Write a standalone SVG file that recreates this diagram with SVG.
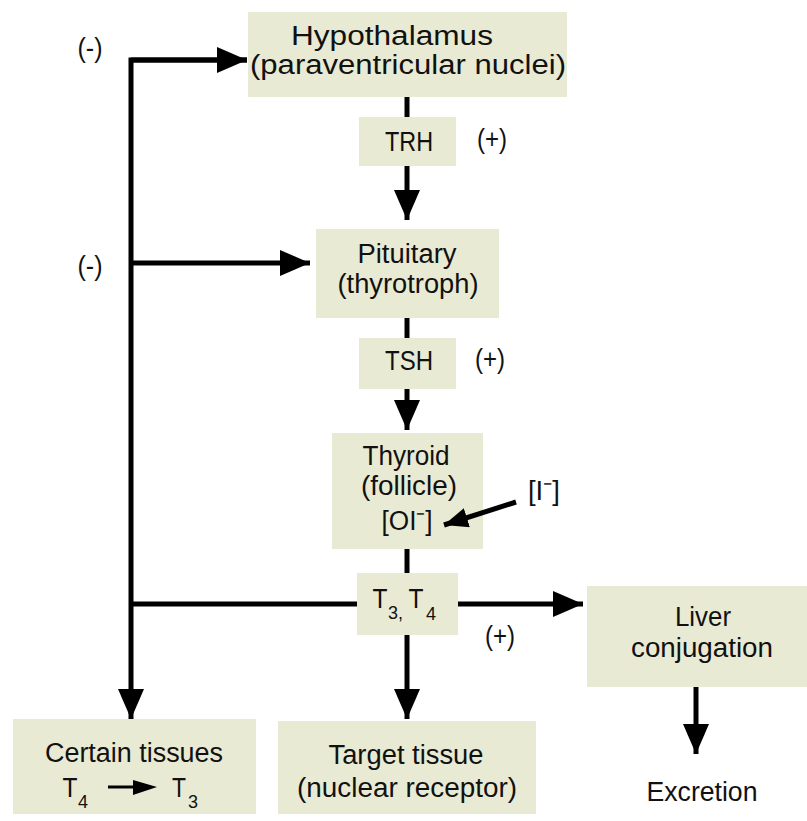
<svg xmlns="http://www.w3.org/2000/svg" width="807" height="821" viewBox="0 0 807 821">
<defs>
<style>
.box{fill:#E9EAD3;}
.t{font-family:"Liberation Sans",Arial,sans-serif;font-size:27px;fill:#111;text-anchor:middle;}
.s{font-family:"Liberation Sans",Arial,sans-serif;font-size:18px;fill:#111;}
.ln{stroke:#000;stroke-width:5;fill:none;}
</style>
<marker id="ah" markerUnits="userSpaceOnUse" markerWidth="32" markerHeight="26" refX="30" refY="13" orient="auto" viewBox="0 0 32 26">
<path d="M0,0 L30,13 L0,26 Z" fill="#000"/>
</marker>
<marker id="ahs" markerUnits="userSpaceOnUse" markerWidth="26" markerHeight="20" refX="24" refY="10" orient="auto" viewBox="0 0 26 20">
<path d="M0,0 L24,10 L0,20 Z" fill="#000"/>
</marker>
</defs>
<rect width="807" height="821" fill="#fff"/>
<g id="hypothalamus">
<rect class="box" x="248" y="12" width="319" height="85"/>
<text class="t" x="392" y="45" textLength="202" lengthAdjust="spacingAndGlyphs">Hypothalamus</text>
<text class="t" x="408" y="74" textLength="316" lengthAdjust="spacingAndGlyphs">(paraventricular nuclei)</text>
</g>
<g id="trh">
<rect class="box" x="359" y="117" width="97" height="49"/>
<text class="t" x="409" y="151" textLength="48" lengthAdjust="spacingAndGlyphs">TRH</text>
</g>
<g id="pituitary">
<rect class="box" x="316" y="229" width="183" height="89"/>
<text class="t" x="407" y="263" textLength="99" lengthAdjust="spacingAndGlyphs">Pituitary</text>
<text class="t" x="408" y="293" textLength="141" lengthAdjust="spacingAndGlyphs">(thyrotroph)</text>
</g>
<g id="tsh">
<rect class="box" x="359" y="338" width="97" height="51"/>
<text class="t" x="409" y="370" textLength="48" lengthAdjust="spacingAndGlyphs">TSH</text>
</g>
<g id="thyroid">
<rect class="box" x="332" y="433" width="151" height="116"/>
<text class="t" x="406" y="465" textLength="87" lengthAdjust="spacingAndGlyphs">Thyroid</text>
<text class="t" x="409" y="495" textLength="96" lengthAdjust="spacingAndGlyphs">(follicle)</text>
<text class="t" x="407" y="530" textLength="51" lengthAdjust="spacingAndGlyphs">[OI⁻]</text>
</g>
<g id="iodide">
<text class="t" x="544" y="500" textLength="32" lengthAdjust="spacingAndGlyphs">[I⁻]</text>
</g>
<g id="t3t4">
<rect class="box" x="357" y="573" width="101" height="62"/>
<text class="t" x="380" y="608" textLength="15" lengthAdjust="spacingAndGlyphs">T</text>
<text class="s" x="388" y="619">3,</text>
<text class="t" x="416" y="608" textLength="15" lengthAdjust="spacingAndGlyphs">T</text>
<text class="s" x="426" y="620">4</text>
</g>
<g id="liver">
<rect class="box" x="587" y="586" width="220" height="101"/>
<text class="t" x="703" y="626" textLength="56" lengthAdjust="spacingAndGlyphs">Liver</text>
<text class="t" x="702" y="657" textLength="142" lengthAdjust="spacingAndGlyphs">conjugation</text>
</g>
<g id="excretion">
<text class="t" x="702" y="801" textLength="111" lengthAdjust="spacingAndGlyphs">Excretion</text>
</g>
<g id="target">
<rect class="box" x="278" y="721" width="258" height="93"/>
<text class="t" x="406" y="764" textLength="155" lengthAdjust="spacingAndGlyphs">Target tissue</text>
<text class="t" x="407" y="797" textLength="220" lengthAdjust="spacingAndGlyphs">(nuclear receptor)</text>
</g>
<g id="certain">
<rect class="box" x="13" y="719" width="243" height="95"/>
<text class="t" x="134" y="762" textLength="178" lengthAdjust="spacingAndGlyphs">Certain tissues</text>
<text class="t" x="70" y="797" textLength="15" lengthAdjust="spacingAndGlyphs">T</text>
<text class="s" x="78" y="808">4</text>
<line x1="108" y1="787" x2="136" y2="787" stroke="#000" stroke-width="3"/>
<path d="M133,780 L157,787 L133,795 Z" fill="#000"/>
<text class="t" x="179" y="797" textLength="14" lengthAdjust="spacingAndGlyphs">T</text>
<text class="s" x="188" y="808">3</text>
</g>
<g id="labels">
<text class="t" x="90" y="57" textLength="25" lengthAdjust="spacingAndGlyphs">(-)</text>
<text class="t" x="90" y="275" textLength="25" lengthAdjust="spacingAndGlyphs">(-)</text>
<text class="t" x="492" y="148" textLength="30" lengthAdjust="spacingAndGlyphs">(+)</text>
<text class="t" x="490" y="368" textLength="30" lengthAdjust="spacingAndGlyphs">(+)</text>
<text class="t" x="500" y="645" textLength="30" lengthAdjust="spacingAndGlyphs">(+)</text>
</g>
<g id="connectors">
<line class="ln" x1="407" y1="97" x2="407" y2="117"/>
<line class="ln" x1="407" y1="166" x2="407" y2="220" marker-end="url(#ah)"/>
<line class="ln" x1="407" y1="318" x2="407" y2="338"/>
<line class="ln" x1="407" y1="389" x2="407" y2="430" marker-end="url(#ah)"/>
<line class="ln" x1="407" y1="549" x2="407" y2="573"/>
<line class="ln" x1="407" y1="635" x2="407" y2="719" marker-end="url(#ah)"/>
<line class="ln" x1="458" y1="604" x2="583" y2="604" marker-end="url(#ah)"/>
<line class="ln" x1="696" y1="687" x2="696" y2="754" marker-end="url(#ah)"/>
<line class="ln" x1="357" y1="604" x2="131" y2="604"/>
<polyline class="ln" points="247,60 131,60 131,719" marker-end="url(#ah)"/>
<line class="ln" x1="131" y1="60" x2="247" y2="60" marker-end="url(#ah)"/>
<line class="ln" x1="131" y1="263" x2="310" y2="263" marker-end="url(#ah)"/>
<line class="ln" x1="516" y1="502" x2="444" y2="525" marker-end="url(#ahs)"/>
</g>
</svg>
